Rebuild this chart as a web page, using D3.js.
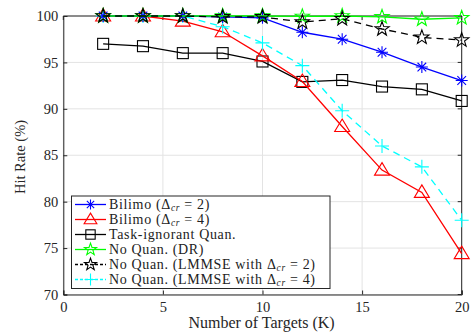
<!DOCTYPE html>
<html>
<head>
<meta charset="utf-8">
<script src="https://cdn.jsdelivr.net/npm/d3@7"></script>
<style>
  body { margin: 0; background: #fff; }
  svg { display: block; }
</style>
</head>
<body>
<script>
const targets = [2, 4, 6, 8, 10, 12, 14, 16, 18, 20]

const bilimo2 = [100, 100, 100, 99.9, 99.8, 98.25, 97.5, 96.1, 94.5, 93.05]
const bilimo4 = [100, 100, 99.45, 98.3, 95.7, 92.95, 88.1, 83.4, 81.0, 74.4]
const taskIgnorant = [97.0, 96.75, 96.0, 96.0, 95.1, 92.9, 93.1, 92.4, 92.1, 90.85]
const noQuanDR = [100, 100, 100, 100, 100, 99.95, 100, 99.9, 99.65, 99.8]
const lmmse2 = [100, 100, 100, 99.9, 99.9, 99.35, 99.7, 98.6, 97.7, 97.4]
const lmmse4 = [100, 100, 100, 98.85, 97.1, 94.65, 89.8, 86.0, 83.75, 78.0]

const xTicks = [0, 5, 10, 15, 20]
const yTicks = [70, 75, 80, 85, 90, 95, 100]

const series = [
  {name: "Bilimo (", sub: "2", values: bilimo2, color: "#0000ff", dash: null, marker: "asterisk"},
  {name: "Bilimo (", sub: "4", values: bilimo4, color: "#ff0000", dash: null, marker: "triangle"},
  {name: "Task-ignorant Quan.", values: taskIgnorant, color: "#000000", dash: null, marker: "square"},
  {name: "No Quan. (DR)", values: noQuanDR, color: "#00ff00", dash: null, marker: "star"},
  {name: "No Quan. (LMMSE with ", sub: "2", values: lmmse2, color: "#000000", dash: "7,5", marker: "star"},
  {name: "No Quan. (LMMSE with ", sub: "4", values: lmmse4, color: "#00ffff", dash: "7,5", marker: "plus"}
]

const serif = "'Liberation Serif'"
const width = 472, height = 335

const svg = d3.select("body").append("svg")
  .attr("width", width)
  .attr("height", height)

const x = d3.scaleLinear().domain([0, 20]).range([63.3, 461.7])
const y = d3.scaleLinear().domain([70, 100]).range([294.5, 16])

// grid
svg.append("g").selectAll("line").data(xTicks).enter().append("line")
  .attr("x1", d => x(d)).attr("x2", d => x(d))
  .attr("y1", y(70)).attr("y2", y(100))
  .attr("stroke", "#e3e3e3").attr("stroke-width", 1)
svg.append("g").selectAll("line").data(yTicks).enter().append("line")
  .attr("x1", x(0)).attr("x2", x(20))
  .attr("y1", d => y(d)).attr("y2", d => y(d))
  .attr("stroke", "#e3e3e3").attr("stroke-width", 1)

// axes
const xAxis = d3.axisBottom(x).tickValues(xTicks).tickSize(-4).tickPadding(7)
const yAxis = d3.axisLeft(y).tickValues(yTicks).tickSize(-4).tickPadding(5)

const gx = svg.append("g").attr("transform", "translate(0," + y(70) + ")").call(xAxis)
const gy = svg.append("g").attr("transform", "translate(" + x(0) + ",0)").call(yAxis)

for (const g of [gx, gy]) {
  g.attr("font-family", null).attr("font-size", null)
  g.select(".domain").attr("stroke", "#262626")
  g.selectAll(".tick line").attr("stroke", "#262626")
  g.selectAll(".tick text").style("font-size", "14.5px").attr("fill", "#262626")
    .style("font-family", serif)
}
// top / right box
svg.append("line").attr("x1", x(0)).attr("x2", x(20)).attr("y1", y(100)).attr("y2", y(100)).attr("stroke", "#262626")
svg.append("line").attr("x1", x(20)).attr("x2", x(20)).attr("y1", y(100)).attr("y2", y(70)).attr("stroke", "#262626")
svg.append("g").selectAll("line").data(xTicks).enter().append("line")
  .attr("x1", d => x(d)).attr("x2", d => x(d)).attr("y1", y(100)).attr("y2", y(100) + 4).attr("stroke", "#262626")
svg.append("g").selectAll("line").data(yTicks).enter().append("line")
  .attr("x1", x(20)).attr("x2", x(20) - 4).attr("y1", d => y(d)).attr("y2", d => y(d)).attr("stroke", "#262626")

// axis titles
svg.append("text").attr("x", 261.5).attr("y", 328).attr("text-anchor", "middle")
  .style("font-family", serif).style("font-size", "16px").attr("fill", "#262626").text("Number of Targets (K)")
svg.append("text").attr("transform", "translate(25,157) rotate(-90)")
  .attr("text-anchor", "middle").style("font-family", serif).style("font-size", "14.5px")
  .attr("fill", "#262626").text("Hit Rate (%)")

function drawMarker(g, type, color, cx, cy, k) {
  const m = g.append("g").attr("transform", "translate(" + cx + "," + cy + ") scale(" + k + ")")
    .attr("fill", "none").attr("stroke", color).attr("stroke-width", 1.1 / k)
  if (type === "square") {
    m.append("rect").attr("x", -5.5).attr("y", -5.5).attr("width", 11).attr("height", 11)
  } else if (type === "triangle") {
    m.append("path").attr("d", "M0,-7.5L7.5,5L-7.5,5Z")
  } else if (type === "asterisk") {
    const r = 6
    m.append("path").attr("d", "M0," + -r + "V" + r + "M" + -r + ",0H" + r +
      "M" + (-r * 0.72) + "," + (-r * 0.72) + "L" + (r * 0.72) + "," + (r * 0.72) +
      "M" + (-r * 0.72) + "," + (r * 0.72) + "L" + (r * 0.72) + "," + (-r * 0.72))
  } else if (type === "plus") {
    m.append("path").attr("d", "M0,-7V7M-7,0H7")
  } else if (type === "star") {
    const pts = []
    for (let i = 0; i < 10; i++) {
      const a = -Math.PI / 2 + i * Math.PI / 5
      const r = i % 2 === 0 ? 7.5 : 3
      pts.push([r * Math.cos(a), r * Math.sin(a)])
    }
    m.append("path").attr("d", "M" + pts.map(p => p.join(",")).join("L") + "Z")
  }
}

const line = d3.line().x((d, i) => x(targets[i])).y(d => y(d))

// draw order so green/black stars sit sensibly
const order = [2, 1, 5, 0, 3, 4]
for (const idx of order) {
  const s = series[idx]
  const g = svg.append("g")
  g.append("path").datum(s.values).attr("d", line)
    .attr("fill", "none").attr("stroke", s.color).attr("stroke-width", 1.3)
    .attr("stroke-dasharray", s.dash)
  s.values.forEach((v, i) => drawMarker(g, s.marker, s.color, x(targets[i]), y(v), 1))
}

// legend
const leg = svg.append("g")
leg.append("rect").attr("x", 71.5).attr("y", 196).attr("width", 258.5).attr("height", 92.5)
  .attr("fill", "#fff").attr("stroke", "#262626").attr("stroke-width", 1)

series.forEach((s, i) => {
  const ly = 204.5 + i * 15
  const g = leg.append("g")
  g.append("line").attr("x1", 75).attr("x2", 106).attr("y1", ly).attr("y2", ly)
    .attr("stroke", s.color).attr("stroke-width", 1.3).attr("stroke-dasharray", s.dash ? "3,2" : null)
  drawMarker(g, s.marker, s.color, 90.5, ly, 0.85)
  const t = g.append("text").attr("x", 109).attr("y", ly + 4.5)
    .style("font-family", serif).style("font-size", "14px").style("letter-spacing", "0.65px")
    .attr("fill", "#222")
  if (s.sub) {
    t.append("tspan").text(s.name)
    t.append("tspan").text("\u0394")
    t.append("tspan").style("font-style", "italic").style("font-size", "9.5px").attr("dy", 2).text("cr")
    t.append("tspan").attr("dy", -2).text(" = " + s.sub + ")")
  } else {
    t.text(s.name)
  }
})
</script>
</body>
</html>
